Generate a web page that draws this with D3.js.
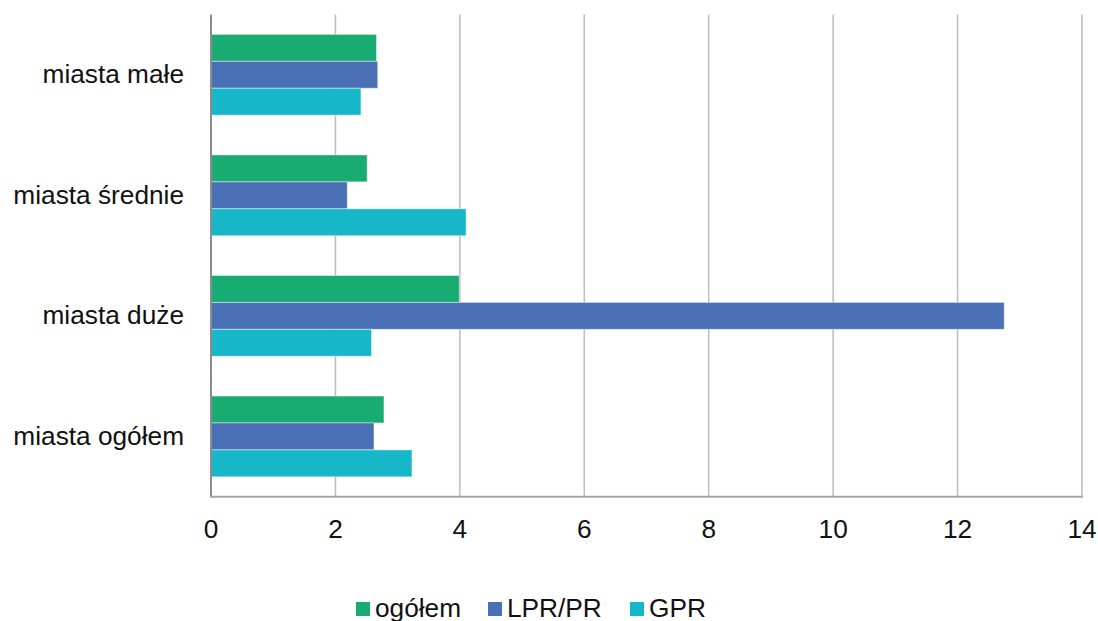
<!DOCTYPE html>
<html>
<head>
<meta charset="utf-8">
<script src="https://cdn.jsdelivr.net/npm/d3@7"></script>
<style>
  html, body { margin: 0; padding: 0; background: #fff; }
  svg { display: block; font-family: "Liberation Sans", Arial, sans-serif; }
</style>
</head>
<body>
<svg id="chart" width="1098" height="621"></svg>
<script>
// Categories, top to bottom
const categories = ["miasta małe", "miasta średnie", "miasta duże", "miasta ogółem"];
// Series names (legend order) and their values per category
const seriesNames = ["ogółem", "LPR/PR", "GPR"];
const ogolem = [2.66, 2.51, 3.99, 2.78];
const lprPr  = [2.68, 2.19, 12.75, 2.62];
const gpr    = [2.41, 4.10, 2.58, 3.23];
const xTicks = [0, 2, 4, 6, 8, 10, 12, 14];

const colors = ["#19AC72", "#4A70B5", "#17B7CA"];
const seriesValues = [ogolem, lprPr, gpr];

const rows = categories.map((c, i) => ({
  category: c,
  values: seriesNames.map((s, k) => ({ series: s, value: seriesValues[k][i] }))
}));

const svg = d3.select("#chart");
const plotLeft = 211, plotRight = 1082, plotTop = 14.5, plotBottom = 496.7;
const fontSize = 25, stretch = 1.05;
const textColor = "#111";

const x = d3.scaleLinear().domain([0, 14]).range([plotLeft, plotRight]);
const y = d3.scaleBand().domain(categories).range([plotTop, plotBottom])
  .paddingInner(0.33).paddingOuter(0.165);
const ySub = d3.scaleBand().domain(seriesNames).range([0, y.bandwidth()]);
const color = d3.scaleOrdinal().domain(seriesNames).range(colors);

// vertical gridlines
svg.append("g")
  .selectAll("line")
  .data(xTicks.filter(t => t > 0))
  .join("line")
  .attr("x1", d => x(d)).attr("x2", d => x(d))
  .attr("y1", plotTop).attr("y2", plotBottom)
  .attr("stroke", "#c0c0c0")
  .attr("stroke-width", 1.6);

// bars
const groups = svg.append("g")
  .selectAll("g")
  .data(rows)
  .join("g")
  .attr("transform", d => `translate(0,${y(d.category)})`);

groups.selectAll("rect")
  .data(d => d.values)
  .join("rect")
  .attr("x", x(0))
  .attr("y", d => ySub(d.series))
  .attr("width", d => x(d.value) - x(0))
  .attr("height", ySub.bandwidth())
  .attr("fill", d => color(d.series))
  .attr("stroke", "#ffffff")
  .attr("stroke-opacity", 0.45)
  .attr("stroke-width", 1);

// axis lines
svg.append("line")
  .attr("x1", x(0)).attr("x2", x(0))
  .attr("y1", plotTop).attr("y2", plotBottom)
  .attr("stroke", "#8c8c8c").attr("stroke-width", 2);
svg.append("line")
  .attr("x1", x(0) - 1).attr("x2", x(14) + 1)
  .attr("y1", plotBottom).attr("y2", plotBottom)
  .attr("stroke", "#a6a6a6").attr("stroke-width", 2);

// x tick labels
svg.append("g")
  .selectAll("text")
  .data(xTicks)
  .join("text")
  .attr("transform", d => `translate(${x(d)},538) scale(${stretch},1)`)
  .attr("text-anchor", "middle")
  .attr("font-size", fontSize)
  .attr("fill", textColor)
  .text(d => d);

// category labels
svg.append("g")
  .selectAll("text")
  .data(categories)
  .join("text")
  .attr("transform", d => `translate(184,${y(d) + y.bandwidth() / 2 + 8.6}) scale(${stretch},1)`)
  .attr("text-anchor", "end")
  .attr("font-size", fontSize)
  .attr("fill", textColor)
  .text(d => d);

// legend
const legendX = [356, 488, 630];
const legend = svg.append("g")
  .selectAll("g")
  .data(seriesNames)
  .join("g")
  .attr("transform", (d, i) => `translate(${legendX[i]},0)`);
legend.append("rect")
  .attr("x", 0).attr("y", 602)
  .attr("width", 14).attr("height", 14)
  .attr("fill", d => color(d));
legend.append("text")
  .attr("transform", `translate(19,617) scale(${stretch},1)`)
  .attr("font-size", fontSize)
  .attr("fill", textColor)
  .text(d => d);
</script>
</body>
</html>
